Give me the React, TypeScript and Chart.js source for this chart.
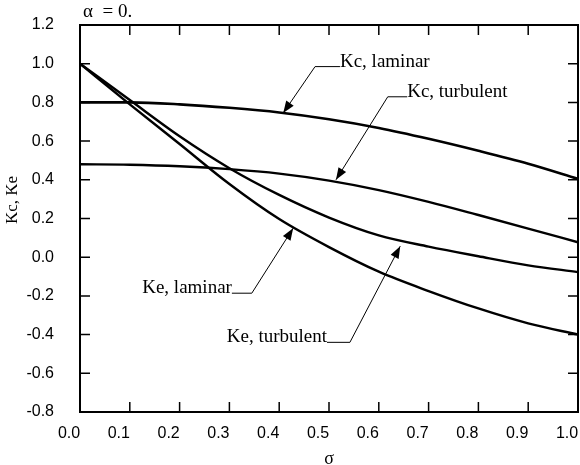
import React, { useEffect, useRef } from 'react';
import { Chart, registerables } from 'chart.js';

Chart.register(...registerables);

// ---- data ----
const sigma = [0, 0.1, 0.2, 0.3, 0.4, 0.5, 0.6, 0.7, 0.8, 0.9, 1.0];
const kcLaminar = [0.8, 0.8, 0.79, 0.772, 0.748, 0.713, 0.668, 0.612, 0.55, 0.483, 0.405];
const kcTurbulent = [0.48, 0.478, 0.47, 0.455, 0.432, 0.396, 0.347, 0.286, 0.218, 0.148, 0.077];
const keLaminar = [1.0, 0.79, 0.585, 0.378, 0.197, 0.052, -0.075, -0.175, -0.265, -0.342, -0.4];
const keTurbulent = [1.0, 0.812, 0.625, 0.46, 0.322, 0.205, 0.113, 0.055, 0.005, -0.042, -0.077];

const xMin = 0;
const xMax = 1.0;
const xStep = 0.1;
const yMin = -0.8;
const yMax = 1.2;
const yStep = 0.2;

const xTitle = 'σ';
const yTitle = 'Kc, Ke';
const plotTitle = 'α  = 0.';

// annotation labels, anchored in data coordinates (σ, K)
const labelTexts = ['Kc, laminar', 'Kc, turbulent', 'Ke, laminar', 'Ke, turbulent'];
const labelTips = [[0.408, 0.745], [0.514, 0.4], [0.428, 0.15], [0.643, 0.057]];
const labelElbows = [[0.472, 0.985], [0.618, 0.829], [0.345, -0.186], [0.542, -0.44]];
const labelEnds = [0.522, 0.657, 0.305, 0.496];
const labelSides = ['right', 'right', 'left', 'left'];

const fmt = (v: number) => (Math.abs(v) < 1e-9 ? '0.0' : v.toFixed(1));

const serif = '"Liberation Serif", "Times New Roman", serif';
const sans = '"Liberation Sans", Arial, sans-serif';

const framePlugin = {
  id: 'frame',
  afterDatasetsDraw(chart: any) {
    const { ctx, chartArea: a, scales } = chart;
    const x = scales.x;
    const y = scales.y;
    ctx.save();
    ctx.strokeStyle = '#000';
    ctx.fillStyle = '#000';
    // frame
    ctx.lineWidth = 2;
    ctx.strokeRect(a.left, a.top, a.right - a.left, a.bottom - a.top);
    // inward ticks on all sides
    ctx.lineWidth = 1.5;
    const tl = 10;
    ctx.beginPath();
    x.ticks.forEach((t: any) => {
      const px = x.getPixelForValue(t.value);
      ctx.moveTo(px, a.bottom);
      ctx.lineTo(px, a.bottom - tl);
      ctx.moveTo(px, a.top);
      ctx.lineTo(px, a.top + tl);
    });
    y.ticks.forEach((t: any) => {
      const py = y.getPixelForValue(t.value);
      ctx.moveTo(a.left, py);
      ctx.lineTo(a.left + tl, py);
      ctx.moveTo(a.right, py);
      ctx.lineTo(a.right - tl, py);
    });
    ctx.stroke();

    // annotations
    ctx.font = `19px ${serif}`;
    ctx.lineWidth = 1;
    labelTexts.forEach((text, i) => {
      const tx = x.getPixelForValue(labelTips[i][0]);
      const ty = y.getPixelForValue(labelTips[i][1]);
      const ex = x.getPixelForValue(labelElbows[i][0]);
      const ey = y.getPixelForValue(labelElbows[i][1]);
      const endX = x.getPixelForValue(labelEnds[i]);
      ctx.beginPath();
      ctx.moveTo(endX, ey);
      ctx.lineTo(ex, ey);
      ctx.lineTo(tx, ty);
      ctx.stroke();
      // arrow head
      const ang = Math.atan2(ty - ey, tx - ex);
      const len = 12;
      const hw = 4.5;
      const bx = tx - len * Math.cos(ang);
      const by = ty - len * Math.sin(ang);
      ctx.beginPath();
      ctx.moveTo(tx, ty);
      ctx.lineTo(bx + hw * Math.sin(ang), by - hw * Math.cos(ang));
      ctx.lineTo(bx - hw * Math.sin(ang), by + hw * Math.cos(ang));
      ctx.closePath();
      ctx.fill();
      // text
      ctx.textBaseline = 'alphabetic';
      ctx.textAlign = labelSides[i] === 'right' ? 'left' : 'right';
      ctx.fillText(text, endX, ey);
    });

    // plot title (top-left)
    ctx.font = `19px ${serif}`;
    ctx.textAlign = 'left';
    ctx.textBaseline = 'alphabetic';
    ctx.fillText(plotTitle, a.left + 3, 17);

    // y axis title
    ctx.save();
    ctx.translate(13, 200);
    ctx.rotate(-Math.PI / 2);
    ctx.font = `17px ${serif}`;
    ctx.textAlign = 'center';
    ctx.textBaseline = 'middle';
    ctx.fillText(yTitle, 0, 0);
    ctx.restore();

    ctx.restore();
  },
};

export default function App() {
  const canvasRef = useRef<HTMLCanvasElement | null>(null);

  useEffect(() => {
    if (!canvasRef.current) return;
    const mk = (arr: number[]) => sigma.map((s, i) => ({ x: s, y: arr[i] }));
    const ds = (label: string, arr: number[], w: number) => ({
      label,
      data: mk(arr),
      borderColor: '#000',
      backgroundColor: '#000',
      borderWidth: w,
      pointRadius: 0,
      fill: false,
      cubicInterpolationMode: 'monotone' as const,
    });
    const chart = new Chart(canvasRef.current, {
      type: 'line',
      data: {
        datasets: [
          ds('Kc, laminar', kcLaminar, 2.6),
          ds('Kc, turbulent', kcTurbulent, 2.4),
          ds('Ke, laminar', keLaminar, 2.4),
          ds('Ke, turbulent', keTurbulent, 2.4),
        ],
      },
      options: {
        responsive: false,
        animation: false,
        layout: { padding: { top: 25, right: 2, left: 0, bottom: 0 } },
        plugins: {
          legend: { display: false },
          tooltip: { enabled: false },
        },
        scales: {
          x: {
            type: 'linear',
            min: xMin,
            max: xMax,
            grid: { display: false, drawTicks: false },
            border: { display: false },
            ticks: {
              stepSize: xStep,
              autoSkip: false,
              maxRotation: 0,
              labelOffset: -11,
              padding: 12,
              color: '#000',
              font: { family: sans, size: 16 },
              callback: (v: any) => fmt(Number(v)),
            },
            title: {
              display: true,
              text: xTitle,
              color: '#000',
              font: { family: serif, size: 18, lineHeight: 1 },
              padding: { top: 0, bottom: -3 },
            },
            afterFit: (s: any) => {
              s.height = 53;
              s.paddingLeft = 0;
              s.paddingRight = 0;
            },
          },
          y: {
            type: 'linear',
            min: yMin,
            max: yMax,
            grid: { display: false, drawTicks: false },
            border: { display: false },
            ticks: {
              stepSize: yStep,
              autoSkip: false,
              padding: 26,
              color: '#000',
              font: { family: sans, size: 16 },
              callback: (v: any) => fmt(Number(v)),
            },
            afterFit: (s: any) => {
              s.width = 80;
              s.paddingTop = 0;
              s.paddingBottom = 0;
            },
          },
        },
      },
      plugins: [framePlugin],
    });
    return () => chart.destroy();
  }, []);

  return (
    <div style={{ position: 'absolute', left: 0, top: 0, width: 580, height: 465, background: '#fff' }}>
      <canvas ref={canvasRef} width={580} height={465} />
    </div>
  );
}
